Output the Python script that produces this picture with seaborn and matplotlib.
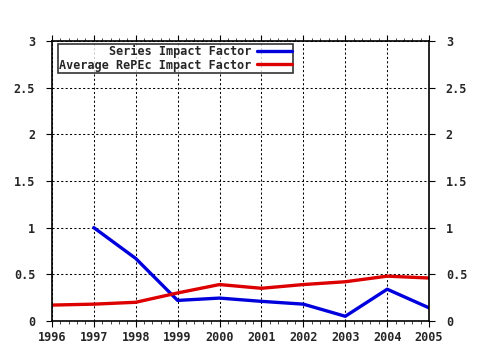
import matplotlib
matplotlib.use("Agg")
import matplotlib.pyplot as plt
import seaborn as sns
import pandas as pd
from matplotlib.ticker import MultipleLocator

years = [1996, 1997, 1998, 1999, 2000, 2001, 2002, 2003, 2004, 2005]
series_years = [1997, 1998, 1999, 2000, 2001, 2002, 2003, 2004, 2005]
series_if = [1.0, 0.67, 0.22, 0.245, 0.21, 0.18, 0.05, 0.34, 0.14]
avg_if = [0.17, 0.18, 0.20, 0.30, 0.39, 0.35, 0.39, 0.42, 0.48, 0.46]

sns.set_style("white")
plt.rcParams['font.family'] = ['DejaVu Sans Mono']

fig = plt.figure(figsize=(4.8, 3.5), dpi=100)
ax = fig.add_axes([0.108, 0.083, 0.786, 0.8])

df1 = pd.DataFrame({"year": series_years, "v": series_if})
df2 = pd.DataFrame({"year": years, "v": avg_if})
sns.lineplot(data=df1, x="year", y="v", color="#0000dd", lw=2.4, ax=ax, label="Series Impact Factor")
sns.lineplot(data=df2, x="year", y="v", color="#dd0000", lw=2.4, ax=ax, label="Average RePEc Impact Factor")

ax.set_xlim(1996, 2005)
ax.set_ylim(0, 3)
ax.set_xlabel("")
ax.set_ylabel("")
ax.xaxis.set_major_locator(MultipleLocator(1))
ax.xaxis.set_minor_locator(MultipleLocator(0.2))
ax.yaxis.set_major_locator(MultipleLocator(0.5))
ax.yaxis.set_major_formatter(matplotlib.ticker.FuncFormatter(lambda v, p: f"{v:g}"))
ax.grid(True, which="major", color="black", linestyle=(0, (2, 2.2)), linewidth=0.75)
for s in ax.spines.values():
    s.set_color("black")
    s.set_linewidth(1.2)
ax.tick_params(axis="both", which="major", direction="out", length=4, color="black",
               labelsize=8.5, top=True, right=True, labelright=True, bottom=True, left=True)
ax.tick_params(axis="x", which="minor", direction="out", length=2, top=True, bottom=True)
ax.tick_params(axis="y", pad=8)
ax.tick_params(axis="x", pad=3)
for lab in ax.get_xticklabels() + ax.get_yticklabels():
    lab.set_fontweight("bold")
for lab in ax.yaxis.get_ticklabels(which="both"):
    lab.set_fontweight("bold")
for tick in ax.yaxis.get_major_ticks():
    tick.label2.set_fontweight("bold")

leg = ax.legend(loc="upper left", bbox_to_anchor=(0.016, 0.99), markerfirst=False,
                frameon=True, fancybox=False, fontsize=8.5, handlelength=2.9,
                borderpad=0.1, labelspacing=0.05, handletextpad=0.5, borderaxespad=0)
leg.get_frame().set_edgecolor("black")
leg.get_frame().set_linewidth(1.2)
for t in leg.get_texts():
    t.set_fontweight("bold")

fig.savefig("out.png", dpi=100)
